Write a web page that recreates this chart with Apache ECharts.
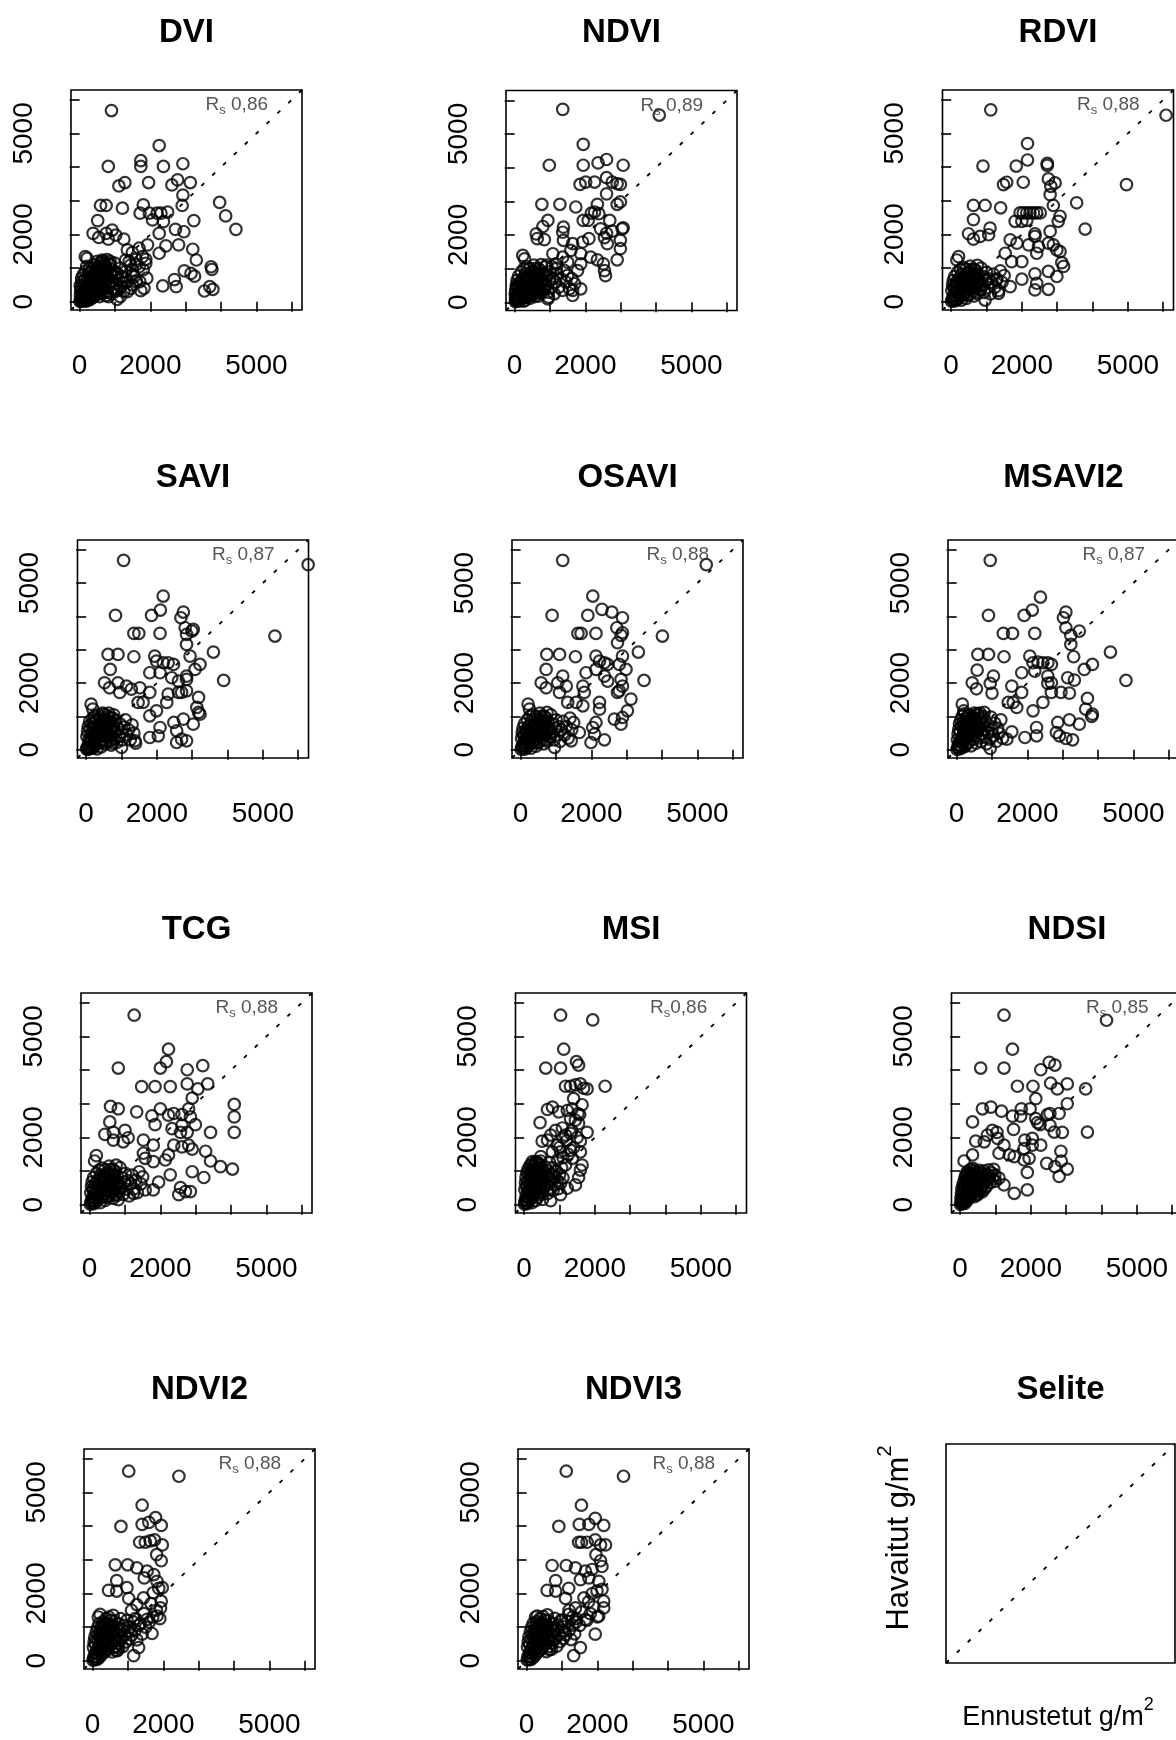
<!DOCTYPE html>
<html>
<head>
<meta charset="utf-8">
<script src="https://cdn.jsdelivr.net/npm/echarts@6/dist/echarts.min.js"></script>
<style>
html,body{margin:0;padding:0;background:#fff}
#chart{width:1176px;height:1740px}
</style>
</head>
<body>
<div id="chart"></div>
<script>
// Predicted (x) vs observed (y) biomass, g/m2, one array of [predicted, observed] per index
const DVI = [[900,5680],[2250,4640],[810,4020],[1730,4190],[1730,4020],[2370,4020],[2920,4100],[1110,3440],[1280,3540],[1950,3540],[2610,3470],[2770,3620],[3130,3540],[2920,3170],[2900,2860],[590,2860],[750,2860],[1210,2780],[1800,2880],[1710,2630],[1970,2630],[2190,2630],[2300,2630],[2490,2660],[3960,2950],[4130,2550],[4420,2150],[510,2410],[3230,2410],[2060,2430],[2370,2380],[2710,2150],[2950,2080],[380,2030],[540,1910],[750,2030],[920,2130],[1020,1980],[810,1860],[2250,2030],[2440,1660],[2800,1690],[1250,1860],[1920,1690],[1680,1590],[3200,1560],[3300,1240],[1350,1540],[1490,1460],[1300,1240],[1590,1260],[1780,1340],[1870,1260],[2250,1440],[2960,920],[3150,840],[3250,760],[3720,1040],[3740,960],[2680,660],[2730,450],[2350,470],[3530,320],[3680,450],[3770,370],[1730,330],[1820,400],[1060,70],[160,1340],[210,1290],[1440,1090],[1490,940],[1540,740],[1680,1040],[1870,1140],[1490,500],[1250,550],[1060,840],[1200,700],[640,1240],[830,1140],[1350,300],[1600,600],
[10,10],[30,60],[50,20],[70,120],[90,40],[110,200],[130,80],[150,300],[170,150],[190,20],[210,250],[230,100],[250,400],[270,180],[290,60],[310,320],[330,500],[350,230],[370,120],[390,420],[410,650],[430,300],[450,180],[470,520],[490,750],[510,380],[530,250],[550,600],[570,850],[590,450],[610,320],[630,700],[650,950],[670,520],[690,380],[710,800],[730,1050],[750,600],[770,300],[790,900],[810,700],[830,450],[850,1100],[870,800],[890,250],[910,600],[930,950],[950,400],[970,750],[990,1150],[1020,550],[1050,850],[1080,350],[1110,650],[1140,1000],[1170,450],[1200,750],[40,400],[60,600],[80,250],[100,800],[120,500],[140,650],[160,900],[180,450],[200,1050],[220,700],[240,550],[260,850],[280,1000],[300,700],[320,150],[340,900],[360,750],[380,1000],[400,550],[420,850],[440,1100],[460,950],[480,300],[500,1200],[520,900],[540,1050],[560,150],[580,1150],[600,1000],[640,1200],[660,250],[700,1150],[740,180],[780,1250],[820,150],[860,1200],[20,180],[25,320],[15,480],[55,700],[75,50],[95,350],[135,30],[200,150],[260,80],[300,450],[380,320],[450,420],[520,650],[600,550],[680,680],[760,950],[840,600],[920,850],[1000,300],[1300,900],[1350,600],[1400,1200],[1500,800],[1600,1100],[1700,600],[1800,950],[1900,700],[1450,400],[1250,300],[1150,150]];

const NDVI = [[1360,5730],[4090,5560],[1940,4690],[980,4070],[1940,4070],[2360,4140],[2600,4240],[3070,4070],[1850,3500],[2010,3570],[2260,3570],[2600,3700],[2760,3570],[2900,3520],[2990,3500],[2600,3220],[2990,2980],[2900,2910],[770,2910],[1280,2910],[1730,2830],[2340,2910],[2170,2650],[2260,2680],[2380,2630],[1940,2430],[2080,2430],[940,2430],[2690,2430],[3070,2210],[3040,2180],[2430,2180],[2600,2050],[2760,2110],[2540,1920],[1380,2230],[1360,2080],[800,2250],[610,2030],[640,1890],[840,1860],[1380,1840],[1640,1740],[1920,1790],[2100,1890],[2990,1840],[2990,1590],[2900,1260],[2620,1740],[1590,1540],[1870,1440],[2150,1340],[2340,1260],[2510,1140],[2540,940],[2570,790],[230,1390],[280,1290],[1080,1440],[1360,1340],[1500,1190],[1170,1140],[1870,1140],[1780,940],[1870,400],[1640,200],[1640,350],[940,100],
[20,20],[40,90],[60,40],[80,200],[100,120],[120,30],[140,300],[160,180],[180,80],[200,420],[220,250],[240,140],[260,550],[280,330],[300,60],[320,680],[340,420],[360,220],[380,800],[400,520],[420,300],[440,120],[460,650],[480,900],[500,380],[520,220],[540,750],[560,480],[580,1000],[600,300],[620,620],[640,850],[660,180],[680,700],[700,420],[720,950],[740,560],[760,260],[780,820],[800,650],[830,380],[860,1050],[890,520],[920,780],[950,300],[980,650],[1010,900],[1040,450],[1080,700],[1120,250],[1160,600],[1200,850],[1250,450],[1300,700],[1350,350],[1400,950],[1450,600],[1500,800],[1550,400],[1620,700],[1700,550],[30,350],[50,520],[70,650],[90,430],[110,780],[150,600],[190,900],[230,700],[270,1000],[310,850],[350,1050],[390,650],[430,1000],[470,200],[510,600],[550,1100],[590,820],[630,450],[670,1000],[710,300],[750,1120],[15,250],[25,150],[35,60],[45,450],[130,500],[170,320],[210,560],[250,30],[290,470],[330,150],[370,560],[410,680],[450,420],[490,280],[530,880],[570,170],[610,550],[650,720],[690,880],[730,350],[770,640],[810,500],[850,850],[900,1100],[960,150],[1060,1050],[1180,1000]];

const RDVI = [[1120,5700],[6080,5540],[2160,4700],[900,4030],[1840,4030],[2160,4210],[2040,3550],[2720,4050],[2720,4110],[2750,3650],[2940,3530],[2820,3430],[2800,3180],[2890,2860],[1480,3480],[1570,3550],[4960,3480],[3550,2940],[3790,2160],[630,2860],[960,2860],[1400,2790],[1950,2640],[2040,2640],[2140,2640],[2230,2640],[2330,2640],[2420,2640],[2520,2640],[1810,2390],[2000,2390],[2140,2420],[3080,2540],[3030,2390],[2800,2090],[2750,1740],[2890,1690],[2990,1540],[630,2440],[490,2020],[630,1860],[820,1940],[1100,2190],[1060,1990],[2370,2020],[2370,1940],[1670,1840],[1860,1740],[2190,1690],[2470,1640],[3080,1490],[3130,1160],[3180,1050],[2990,750],[2750,370],[2370,830],[2420,550],[2370,350],[2000,670],[1530,1440],[1710,1190],[2000,1190],[2420,1440],[2750,900],[210,1340],[160,1240],[960,50],[1340,250],[1670,450],[1290,650],[1010,650],
[10,15],[30,90],[50,35],[70,190],[90,110],[110,25],[130,290],[150,160],[170,70],[190,390],[210,240],[230,120],[250,500],[270,310],[290,50],[310,620],[330,400],[350,210],[370,740],[390,500],[410,300],[430,100],[450,640],[470,860],[490,380],[510,210],[530,720],[550,460],[570,960],[590,290],[610,600],[630,820],[650,170],[670,680],[690,410],[710,920],[730,540],[750,240],[770,790],[790,620],[820,360],[850,1000],[880,500],[910,750],[940,280],[970,620],[1000,870],[1030,430],[1070,680],[1110,230],[1150,580],[1190,820],[1240,430],[1290,680],[1340,330],[1390,920],[1440,580],[1500,780],[20,330],[40,500],[60,630],[80,410],[100,750],[140,580],[180,870],[220,680],[260,960],[300,820],[340,1020],[380,630],[420,970],[460,190],[500,580],[540,1060],[580,790],[620,430],[660,960],[700,290],[740,1080],[120,470],[160,310],[200,540],[280,450],[360,540],[400,660],[440,400],[520,850],[600,530],[640,700],[680,850],[760,620],[800,480]];

const SAVI = [[1060,5680],[6280,5550],[2180,4610],[830,4030],[1850,4030],[2100,4190],[2750,4130],[2680,3960],[2800,3660],[2990,3560],[2840,3460],[3030,3610],[1350,3490],[1490,3490],[2090,3490],[2840,3160],[2940,2810],[3600,2930],[3220,2560],[3080,2410],[5340,3410],[3890,2080],[620,2860],[900,2860],[1350,2790],[1940,2810],[1990,2660],[2180,2610],[2320,2610],[2470,2560],[1800,2310],[2090,2310],[2420,2160],[2610,2060],[2840,2210],[2840,2110],[680,2410],[520,2010],[660,1860],[900,2010],[1140,1910],[950,1720],[1280,1820],[1520,1860],[1800,1720],[1470,1420],[1610,1420],[2610,1720],[2700,1720],[2840,1770],[3180,1570],[3130,1270],[3220,1070],[3180,1120],[2320,1670],[2280,1420],[1990,1170],[1800,1020],[2750,920],[3030,770],[2480,820],[2560,570],[2700,320],[2560,220],[2840,270],[2090,670],[2040,420],[1800,370],[140,1370],[190,1220],[1000,70],[1380,270],
[10,30],[30,80],[50,15],[70,180],[90,90],[110,260],[130,40],[150,340],[170,150],[190,60],[210,420],[230,220],[250,120],[270,520],[290,300],[310,30],[330,620],[350,380],[370,200],[390,720],[410,460],[430,90],[450,820],[470,560],[490,300],[510,920],[530,640],[550,180],[570,400],[590,760],[610,1000],[630,520],[650,260],[670,850],[690,640],[710,140],[730,420],[750,950],[770,700],[790,320],[810,560],[840,880],[870,220],[900,640],[930,420],[960,780],[990,520],[1030,300],[1070,680],[1110,900],[1150,450],[1200,600],[1250,300],[1300,750],[1350,500],[1400,200],[20,400],[40,560],[60,700],[80,320],[100,850],[120,620],[140,480],[160,780],[180,950],[200,660],[220,820],[240,1000],[260,400],[280,720],[300,880],[320,500],[340,1050],[360,760],[380,600],[400,950],[420,250],[440,680],[460,1100],[480,450],[500,800],[520,1060],[540,560],[560,900],[580,240],[600,660],[620,820],[640,1100],[660,400],[680,980],[700,300],[720,800],[740,560],[760,200],[780,1050]];

const OSAVI = [[1190,5680],[5250,5550],[2040,4610],[890,4030],[1900,4030],[2300,4210],[2580,4130],[2880,3960],[2720,3660],[2880,3510],[2840,3430],[2740,3210],[1620,3490],[1710,3490],[2130,3490],[4010,3410],[3330,2930],[3490,2080],[740,2860],[1100,2860],[1550,2790],[2130,2810],[2230,2660],[2370,2610],[2460,2560],[2130,2410],[1850,2310],[2370,2210],[2460,2060],[2880,2810],[2790,2560],[2980,2410],[2840,2110],[2880,1910],[2740,1720],[2790,1770],[720,2410],[580,2010],[720,1860],[1050,2010],[1290,1910],[1190,2210],[1100,1720],[1330,1420],[1760,1910],[1800,1720],[1570,1420],[1760,1320],[3120,1520],[3020,1170],[2880,970],[2840,770],[2650,920],[2230,1420],[2230,1220],[2130,820],[2040,670],[2090,470],[1990,220],[2370,300],[210,1370],[250,1220],[960,70],[1430,270],[1660,520],
[15,20],[35,100],[55,40],[75,210],[95,130],[115,20],[135,300],[155,170],[175,70],[195,400],[215,250],[235,130],[255,520],[275,320],[295,50],[315,650],[335,420],[355,230],[375,780],[395,520],[415,320],[435,110],[455,660],[475,900],[495,400],[515,230],[535,740],[555,480],[575,1000],[595,300],[615,620],[635,860],[655,180],[675,720],[695,440],[715,960],[735,560],[755,260],[775,830],[795,640],[825,380],[855,1050],[885,520],[915,780],[945,300],[975,650],[1005,900],[1035,450],[1075,700],[1115,250],[1155,600],[1195,850],[1245,450],[1295,700],[1345,350],[1395,950],[1445,600],[1500,820],[25,350],[45,520],[65,650],[85,430],[105,780],[145,600],[185,900],[225,700],[265,1000],[305,850],[345,1050],[385,650],[425,1000],[465,200],[505,600],[545,1100],[585,820],[625,450],[665,1000],[705,300],[745,1120],[130,480],[170,320],[210,560],[290,470],[370,560],[410,680],[450,420],[530,880],[610,550],[650,720],[690,880],[770,640],[810,500]];

const MSAVI2 = [[950,5680],[2370,4580],[900,4030],[1910,4030],[2140,4190],[3090,4130],[3020,3960],[3090,3660],[3230,3430],[3230,3160],[3470,3560],[1320,3490],[1580,3490],[2210,3490],[4350,2930],[4790,2080],[3310,2790],[3610,2410],[3840,2560],[600,2860],[900,2860],[1340,2790],[2070,2810],[2160,2610],[2300,2630],[2440,2610],[2580,2610],[2680,2560],[1840,2310],[2210,2360],[2580,2210],[2680,2010],[2580,1990],[3140,2160],[3330,2090],[2950,1720],[3190,1700],[3700,1540],[3650,1220],[3840,1070],[3820,1000],[580,2390],[440,2010],[560,1830],[950,1990],[1040,2210],[1000,1700],[1560,1910],[1840,1720],[1600,1420],[1460,1420],[1700,1270],[2160,1170],[2440,1420],[2680,1720],[2860,820],[3190,900],[3470,770],[2820,520],[2910,420],[3090,340],[3280,300],[2260,670],[2260,420],[1930,370],[160,1370],[200,1170],[950,40],[1420,320],[1560,540],
[10,10],[30,70],[50,150],[70,30],[90,250],[110,110],[130,350],[150,60],[170,200],[190,450],[210,300],[230,100],[250,550],[270,380],[290,180],[310,650],[330,460],[350,240],[370,760],[390,540],[410,120],[430,860],[450,620],[470,320],[490,960],[510,700],[530,420],[550,200],[570,800],[590,560],[610,1040],[630,360],[650,680],[670,900],[690,250],[710,480],[730,760],[750,1000],[770,380],[790,620],[820,860],[850,180],[880,520],[910,740],[940,320],[970,980],[1000,600],[1040,420],[1080,800],[1120,250],[1160,650],[1200,500],[1250,900],[1300,350],[20,300],[40,480],[60,620],[80,780],[100,550],[120,900],[140,700],[160,1000],[180,820],[200,600],[220,1080],[240,760],[260,920],[280,680],[300,1000],[320,820],[340,580],[360,1050],[380,900],[400,700],[420,400],[440,1000],[460,850],[480,550],[500,1100],[540,900],[580,1080],[620,760],[660,1100],[700,950],[740,600],[780,1120]];

const TCG = [[1260,5630],[2230,4620],[810,4060],[2000,4060],[2170,4250],[2760,4010],[3200,4130],[1470,3510],[1850,3510],[2280,3510],[2760,3590],[3060,3440],[3340,3590],[2900,3170],[4090,2980],[4090,2610],[4090,2150],[590,2920],[810,2850],[1330,2760],[1760,2640],[2000,2850],[2230,2660],[2380,2710],[2610,2680],[2800,2850],[2850,2610],[2990,2380],[1850,2380],[2330,2260],[2610,2360],[2570,2150],[2760,2150],[3420,2150],[570,2460],[430,2090],[670,2150],[1000,2210],[670,1920],[950,1870],[1090,1990],[1520,1920],[1800,1770],[2380,1770],[2610,1720],[2800,1770],[2900,1650],[3280,1590],[3420,1300],[3700,1130],[4040,1060],[1520,1530],[1570,1380],[1800,1280],[2140,1330],[2230,1480],[2900,980],[3230,810],[2280,890],[2570,510],[2710,390],[2850,390],[2520,300],[190,1460],[140,1300],[810,150],[1240,340],[1570,440],[1800,440],[1950,670],
[20,20],[40,110],[60,40],[80,220],[100,140],[120,30],[140,320],[160,190],[180,80],[200,430],[220,270],[240,150],[260,560],[280,350],[300,60],[320,690],[340,440],[360,240],[380,820],[400,540],[420,330],[440,130],[460,680],[480,940],[500,410],[520,240],[540,770],[560,500],[580,1050],[600,310],[620,640],[640,880],[660,190],[680,740],[700,450],[720,990],[740,580],[760,270],[780,850],[800,660],[830,390],[860,1100],[890,540],[920,800],[950,310],[980,670],[1010,930],[1040,460],[1080,720],[1120,260],[1160,620],[1200,880],[1250,470],[1300,730],[1350,360],[1400,980],[1450,620],[1500,830],[30,360],[50,540],[70,680],[90,450],[110,810],[150,620],[190,930],[230,720],[270,1030],[310,880],[350,1090],[390,670],[430,1040],[470,210],[510,620],[550,1150],[590,850],[630,460],[670,1040],[710,310],[750,1180],[130,500],[170,330],[210,580],[290,490],[370,580],[410,700],[450,430],[530,910],[610,570],[650,740],[690,910],[770,660],[810,520]];

const MSI = [[1030,5630],[1940,5490],[1120,4620],[610,4060],[1030,4060],[1480,4250],[1540,4150],[2290,3520],[1170,3520],[1310,3520],[1450,3560],[1590,3590],[1680,3460],[1780,3440],[1400,3150],[1640,2970],[1360,2850],[1520,2710],[1310,2560],[1450,2510],[1570,2680],[660,2830],[800,2900],[980,2760],[1220,2800],[450,2440],[890,2210],[1080,2280],[1170,2070],[750,2070],[660,1920],[510,1890],[940,1770],[1310,2120],[1540,2410],[1780,2150],[1590,1890],[800,1570],[1030,1570],[1310,1620],[1590,1570],[1360,1380],[1640,1180],[1540,810],[1590,1030],[470,1430],[230,1280],[330,1280],[940,1330],[1170,1180],[1450,590],[1220,490],[750,120],[1030,300],[1100,1400],[1250,1500],[1400,1700],[1200,1900],[1500,2000],[1000,1700],[1350,2200],[1100,2000],
[10,20],[25,120],[40,50],[55,250],[70,150],[85,30],[100,380],[115,220],[130,90],[145,500],[160,320],[175,170],[190,620],[205,430],[220,60],[235,740],[250,540],[265,280],[280,860],[295,640],[310,380],[325,120],[340,980],[355,740],[370,480],[385,220],[400,1080],[415,840],[430,580],[445,300],[460,1180],[475,920],[490,660],[505,400],[520,160],[540,1000],[560,760],[580,520],[600,1120],[620,860],[640,600],[660,330],[680,1000],[700,760],[720,1250],[740,500],[760,900],[780,680],[800,1100],[820,420],[850,840],[880,620],[910,1000],[940,720],[970,480],[1000,900],[1030,640],[1060,1100],[1100,800],[20,450],[35,650],[50,820],[65,540],[80,950],[95,700],[110,1050],[125,860],[140,620],[155,1150],[170,780],[185,960],[200,1200],[215,880],[230,1020],[245,700],[260,1150],[275,460],[290,1000],[305,820],[320,1250],[335,560],[350,1100],[365,900],[380,700],[395,1250],[410,350],[425,1000],[440,780],[455,520],[470,1300],[485,820]];

const NDSI = [[1240,5630],[4140,5480],[1480,4620],[580,4060],[1240,4060],[2280,4010],[2520,4230],[2680,4150],[1620,3520],[2060,3520],[2560,3610],[2750,3440],[3030,3590],[3550,3440],[2140,3150],[3030,3000],[630,2850],[870,2900],[1170,2780],[1480,2630],[1730,2850],[1980,2850],[1710,2630],[2140,2560],[2190,2440],[2260,2380],[2470,2680],[2540,2710],[2800,2710],[2540,2360],[3600,2160],[2660,2160],[2890,2150],[350,2460],[910,2210],[1040,2150],[770,2070],[440,1890],[680,1870],[1060,1970],[1240,1770],[1510,2240],[1830,1920],[2040,1970],[2040,1770],[2280,1770],[1810,1670],[2850,1590],[2860,1300],[3030,1060],[2680,1130],[2800,840],[1100,1530],[1390,1480],[1530,1430],[1810,1330],[1950,1380],[1900,960],[2450,1230],[110,1300],[350,1480],[1900,440],[1530,340],[1240,590],[1100,790],
[10,10],[25,60],[40,120],[55,30],[70,180],[85,90],[100,260],[115,150],[130,40],[145,330],[160,210],[175,100],[190,400],[205,280],[220,160],[235,480],[250,350],[265,220],[280,560],[295,420],[310,280],[325,640],[340,500],[355,340],[370,720],[385,580],[400,420],[415,800],[430,650],[445,480],[460,880],[475,720],[490,560],[505,950],[520,800],[535,620],[550,1020],[565,860],[580,700],[600,540],[620,940],[640,780],[660,620],[680,1000],[700,860],[720,700],[740,540],[760,920],[780,760],[800,1040],[830,820],[860,660],[890,950],[920,780],[950,1050],[980,880],[1000,700],[20,200],[35,350],[50,480],[65,280],[80,600],[95,420],[110,700],[125,540],[140,820],[155,640],[170,900],[185,720],[200,980],[215,560],[230,820],[245,650],[260,940],[275,760],[290,1050],[305,860],[320,700],[335,960],[350,800],[365,1080],[380,900],[395,1020],[410,240],[440,300],[470,380],[500,300],[560,420],[620,380],[680,460]];

const NDVI2 = [[1020,5630],[2440,5480],[1400,4620],[800,3990],[1400,4050],[1590,4110],[1780,4250],[1940,4020],[1330,3520],[1490,3520],[1630,3560],[1750,3590],[1970,3440],[1810,3150],[1940,2970],[640,2850],[990,2850],[1250,2760],[1540,2660],[1460,2460],[1730,2560],[1820,2360],[1970,2170],[1870,2150],[680,2380],[450,2090],[680,2070],[970,2170],[1020,1850],[1440,1870],[1710,2020],[1940,1770],[1920,1570],[1820,1330],[1680,810],[210,1380],[160,1300],[1250,1670],[1540,1230],[1400,790],[1160,150],[1300,390],[1500,1000],[1600,1150],[1700,1300],[1350,1100],[1450,1400],[1200,1250],[1800,1500],[1650,1700],[1100,1500],[1900,1250],
[10,20],[30,110],[50,40],[70,220],[90,130],[110,30],[130,330],[150,200],[170,80],[190,450],[210,290],[230,150],[250,570],[270,380],[290,220],[310,700],[330,470],[350,280],[370,820],[390,560],[410,340],[430,940],[450,660],[470,420],[490,1060],[510,760],[530,500],[550,260],[570,880],[590,600],[610,1180],[630,700],[650,420],[670,980],[690,780],[710,520],[730,1100],[750,860],[770,600],[790,1250],[810,940],[830,680],[850,420],[880,1050],[910,780],[940,560],[970,1200],[1000,880],[1030,650],[1060,1000],[1100,760],[1150,1150],[1200,900],[1250,620],[1300,1050],[20,400],[40,560],[60,700],[80,480],[100,850],[120,620],[140,980],[160,760],[180,1100],[200,880],[220,640],[240,1000],[260,820],[280,1150],[300,950],[320,560],[340,1080],[360,900],[380,1250],[400,700],[420,1100],[440,860],[460,1300],[480,620],[500,980],[520,1200],[540,820],[560,1050],[580,1350],[600,900],[620,400],[660,300],[700,300],[740,380]];

const NDVI3 = [[1120,5630],[2740,5480],[1550,4620],[910,3990],[1490,4050],[1760,4050],[1940,4230],[2180,4020],[1470,3520],[1550,3520],[1710,3520],[1940,3590],[2090,3440],[2230,3440],[1960,3150],[2090,2970],[2130,2800],[720,2830],[1120,2830],[1380,2760],[1660,2660],[1850,2710],[1520,2410],[1760,2460],[2040,2360],[2130,2120],[1990,2070],[820,2380],[580,2090],[820,2070],[1190,2150],[1100,1850],[1620,1870],[1850,1990],[2180,1770],[2180,1570],[2040,1330],[1940,790],[300,1330],[250,1300],[1380,1570],[1660,1230],[1520,390],[1330,150],[1190,1380],[1000,1180],[1500,1050],[1700,1200],[1800,1400],[1400,1150],[1550,1450],[1300,1300],[1900,1600],[1750,1750],[1200,1500],[2000,1300],
[15,25],[35,120],[55,45],[75,230],[95,140],[115,35],[135,340],[155,210],[175,85],[195,460],[215,300],[235,160],[255,580],[275,390],[295,230],[315,710],[335,480],[355,290],[375,830],[395,570],[415,350],[435,950],[455,670],[475,430],[495,1070],[515,770],[535,510],[555,270],[575,890],[595,610],[615,1190],[635,710],[655,430],[675,990],[695,790],[715,530],[735,1110],[755,870],[775,610],[795,1260],[815,950],[835,690],[855,430],[885,1060],[915,790],[945,570],[975,1210],[1005,890],[1035,660],[1065,1010],[1105,770],[1155,1160],[1205,910],[1255,630],[1305,1060],[1360,800],[1400,1250],[25,410],[45,570],[65,710],[85,490],[105,860],[125,630],[145,990],[165,770],[185,1110],[205,890],[225,650],[245,1010],[265,830],[285,1160],[305,960],[325,570],[345,1090],[365,910],[385,1260],[405,710],[425,1110],[445,870],[465,1310],[485,630],[505,990],[525,1210],[545,830],[565,1060],[585,1360],[605,910],[640,330],[700,340]];

// Spearman correlations shown in each panel
const rsText = ['0,86','0,89','0,88','0,87','0,88','0,87','0,88','0,86','0,85','0,88','0,88'];
const panelNames = ['DVI','NDVI','RDVI','SAVI','OSAVI','MSAVI2','TCG','MSI','NDSI','NDVI2','NDVI3'];
const panelData = [DVI, NDVI, RDVI, SAVI, OSAVI, MSAVI2, TCG, MSI, NDSI, NDVI2, NDVI3];
const tickValues = [0, 1000, 2000, 3000, 4000, 5000, 6000];
const tickLabels = [0, 2000, 5000];
const rsAnchor = [[3560, 5840]];
const legendTitle = 'Selite';
const xTitle = 'Ennustetut g/m';
const yTitle = 'Havaitut g/m';

// axis extent shared by all panels (both axes)
const AX_MIN = -245, AX_MAX = 6290;
const oneToOne = [[AX_MIN, AX_MIN], [AX_MAX, AX_MAX]];

// plot box placement: [left, top, height], width is common
const boxes = [
  [71, 90, 220], [506, 90.5, 220], [942.5, 90, 220],
  [77.5, 540, 218], [512, 540, 218], [948, 540, 218],
  [81, 993, 220], [515.5, 993, 220], [951.5, 993, 220],
  [84, 1449, 220], [518, 1449, 220]
];
const BOX_W = 231;
const titleRowY = [30, 475, 927, 1387];

const FONT = "'Liberation Sans', Arial, Helvetica, sans-serif";
const plainNumber = v => String(v);
const dotted = { color: '#000', width: 1.8, type: [4, 11] };
const grids = [], xAxes = [], yAxes = [], series = [], titles = [];

panelNames.forEach((name, i) => {
  const [left, top, h] = boxes[i];
  grids.push({
    left: left, top: top, width: BOX_W, height: h,
    show: true, borderColor: '#000', borderWidth: 1.6, backgroundColor: 'transparent',
    containLabel: false, outerBoundsMode: 'none'
  });
  const axisCommon = {
    gridIndex: i, type: 'value', min: AX_MIN, max: AX_MAX, offset: 5,
    axisLine: { show: false }, splitLine: { show: false },
    axisTick: { show: true, length: 10, lineStyle: { color: '#000', width: 1.6 }, customValues: tickValues },
  };
  xAxes.push(Object.assign({}, axisCommon, {
    position: 'bottom',
    axisLabel: { show: true, customValues: tickLabels, formatter: plainNumber, fontSize: 28, color: '#000', fontFamily: FONT, margin: 37 }
  }));
  yAxes.push(Object.assign({}, axisCommon, {
    position: 'left',
    axisLabel: { show: true, customValues: tickLabels, formatter: plainNumber, fontSize: 28, color: '#000', fontFamily: FONT, margin: 28, rotate: 90 }
  }));
  series.push({
    type: 'scatter', xAxisIndex: i, yAxisIndex: i, data: panelData[i],
    symbol: 'circle', symbolSize: 11.5, silent: true, z: 2,
    itemStyle: { color: 'rgba(0,0,0,0)', borderColor: '#000', borderWidth: 2.2 }
  });
  series.push({
    type: 'line', xAxisIndex: i, yAxisIndex: i, data: oneToOne,
    symbol: 'none', silent: true, z: 3, lineStyle: dotted
  });
  const gap = name === 'MSI' ? '' : ' ';
  series.push({
    type: 'scatter', xAxisIndex: i, yAxisIndex: i, data: rsAnchor,
    symbolSize: 0.1, silent: true, z: 4,
    itemStyle: { color: 'rgba(0,0,0,0)' },
    label: {
      show: true, position: 'right', distance: 0,
      formatter: '{r|R}{s|s}{v|' + gap + rsText[i] + '}',
      rich: {
        r: { fontSize: 19, color: '#2b2b2b', fontFamily: FONT, lineHeight: 24 },
        s: { fontSize: 13, color: '#2b2b2b', fontFamily: FONT, lineHeight: 10, verticalAlign: 'bottom' },
        v: { fontSize: 19, color: '#2b2b2b', fontFamily: FONT, lineHeight: 24 }
      }
    }
  });
  titles.push({
    text: name, left: left + BOX_W / 2, top: titleRowY[Math.floor(i / 3)] - 14,
    textAlign: 'center', padding: 0,
    textStyle: { fontSize: 33, fontWeight: 'bold', color: '#000', fontFamily: FONT }
  });
});

// key panel: empty box with the 1:1 line and axis titles
const k = panelNames.length;
grids.push({
  left: 946, top: 1444, width: 229, height: 219,
  show: true, borderColor: '#000', borderWidth: 1.6, backgroundColor: 'transparent',
  containLabel: false, outerBoundsMode: 'none'
});
const hiddenAxis = {
  gridIndex: k, type: 'value', min: AX_MIN, max: AX_MAX,
  axisLine: { show: false }, axisTick: { show: false }, axisLabel: { show: false }, splitLine: { show: false }
};
xAxes.push(Object.assign({}, hiddenAxis));
yAxes.push(Object.assign({}, hiddenAxis));
series.push({
  type: 'line', xAxisIndex: k, yAxisIndex: k, data: oneToOne,
  symbol: 'none', silent: true, lineStyle: dotted
});
titles.push({
  text: legendTitle, left: 946 + 229 / 2, top: titleRowY[3] - 14,
  textAlign: 'center', padding: 0,
  textStyle: { fontSize: 33, fontWeight: 'bold', color: '#000', fontFamily: FONT }
});

const xRich = {
  t: { fontSize: 27, color: '#000', fontFamily: FONT, lineHeight: 44 },
  p: { fontSize: 18, color: '#000', fontFamily: FONT, lineHeight: 18, verticalAlign: 'top' }
};
const yRich = {
  t: { fontSize: 31, color: '#000', fontFamily: FONT, lineHeight: 48 },
  p: { fontSize: 20, color: '#000', fontFamily: FONT, lineHeight: 20, verticalAlign: 'top' }
};

const chart = echarts.init(document.getElementById('chart'), null, { renderer: 'canvas' });
chart.setOption({
  animation: false,
  backgroundColor: '#fff',
  title: titles,
  grid: grids,
  xAxis: xAxes,
  yAxis: yAxes,
  series: series,
  graphic: [
    {
      type: 'text', x: 1058, y: 1718, silent: true,
      style: {
        text: '{t|' + xTitle + '}{p|2}', rich: xRich,
        align: 'center', verticalAlign: 'middle', textAlign: 'center', textVerticalAlign: 'middle'
      }
    },
    {
      type: 'text', x: 899, y: 1538, rotation: Math.PI / 2, silent: true,
      style: {
        text: '{t|' + yTitle + '}{p|2}', rich: yRich,
        align: 'center', verticalAlign: 'middle', textAlign: 'center', textVerticalAlign: 'middle'
      }
    }
  ]
});
</script>
</body>
</html>
